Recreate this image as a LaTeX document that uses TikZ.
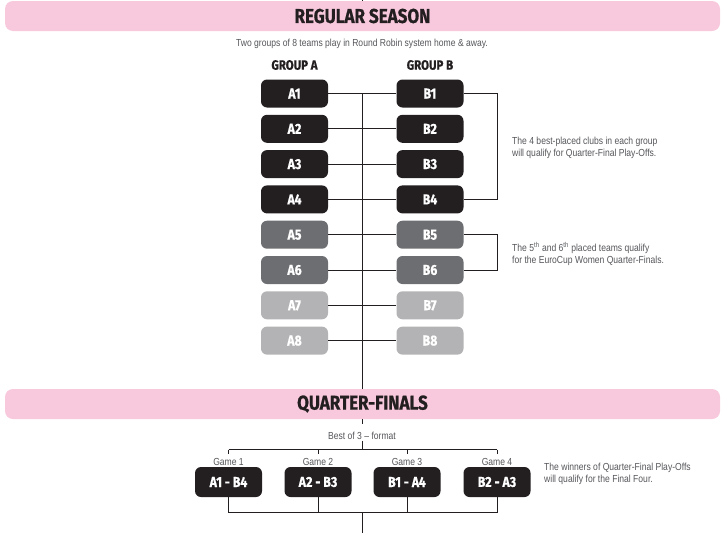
\documentclass[tikz,border=0pt]{standalone}
\usepackage{fontspec}
\setmainfont{Liberation Sans}[FakeStretch=0.84]
\newfontfamily\headfont{Fira Sans}[FakeStretch=0.85,FakeBold=0.8]
\usetikzlibrary{positioning}
\definecolor{bannerpink}{HTML}{F8C8DC}
\definecolor{teamblack}{HTML}{231F20}
\definecolor{teamdark}{HTML}{6D6E71}
\definecolor{teamlight}{HTML}{B3B3B5}
\definecolor{notegray}{HTML}{55565A}
\tikzset{
  banner/.style={fill=bannerpink, rounded corners=8pt, minimum width=715pt, minimum height=30pt, inner sep=0pt,
    text=teamblack, font=\headfont\bfseries\fontsize{20}{20}\selectfont},
  team/.style={rounded corners=6pt, minimum width=67pt, minimum height=28pt, inner sep=0pt,
    text=white, font=\headfont\bfseries\fontsize{14.5}{14.5}\selectfont},
  grouphead/.style={text=teamblack, font=\headfont\bfseries\fontsize{13.5}{13.5}\selectfont},
  note/.style={text=notegray, font=\fontsize{10.2}{12}\selectfont, align=left, inner sep=1pt},
  link/.style={draw=teamblack, line width=0.9pt}
}
\begin{document}
\begin{tikzpicture}[x=1pt,y=-1pt]
\useasboundingbox (0,0) rectangle (722,533);
% regular season
\node[banner] (regular) at (362.5,16) {REGULAR SEASON};
\draw[link] (regular.north) -- ++(0,-2);
\node[note] (intro) at (362,43.5) {Two groups of 8 teams play in Round Robin system home \& away.};
\node[grouphead] (groupa) at (294.5,65) {GROUP A};
\node[grouphead] (groupb) at (430,65) {GROUP B};
\foreach \i/\c in {1/teamblack,2/teamblack,3/teamblack,4/teamblack,5/teamdark,6/teamdark,7/teamlight,8/teamlight}{ % edit here for the rows
\node[team, fill=\c] (a\i) at (294.5,{93.5+35.3*(\i-1)}) {A\i};
\node[team, fill=\c] (b\i) at (430,{93.5+35.3*(\i-1)}) {B\i};
\draw[link] (a\i) -- (b\i);}
% brackets on the right
\draw[link] (b1.east) -- ++(34,0) |- (b4.east);
\draw[link] (b5.east) -- ++(34,0) |- (b6.east);
\node[note, anchor=west] (best4) at (511,147.5) {The 4 best-placed clubs in each group\\will qualify for Quarter-Final Play-Offs.};
\node[note, anchor=west] (fifth) at (511,254) {The 5\textsuperscript{th} and 6\textsuperscript{th} placed teams qualify\\for the EuroCup Women Quarter-Finals.};
% quarter-finals
\node[banner] (quarter) at (362.5,404) {QUARTER-FINALS};
\draw[link] (a1 -| regular) -- (quarter.north);
\draw[link] (quarter.south) -- ++(0,5);
\node[note] (best) at (362,436) {Best of 3 -- format};
\coordinate (qtop) at (362,449.5);
\coordinate (qbot) at (362,512.5);
\coordinate (qend) at (362,533);
\foreach \i/\t/\x in {1/A1 - B4/228.5,2/A2 - B3/318,3/B1 - A4/407,4/B2 - A3/497}{
\node[team, fill=teamblack, minimum height=30pt, font=\headfont\bfseries\fontsize{14.5}{14.5}\selectfont] (g\i) at (\x,482) {\t};
\node[note, above=0.5pt of g\i] (game\i) {Game \i};
\draw[link] (g\i |- qtop) -- ++(0,4.5);
\draw[link] (g\i.south) -- (g\i |- qbot);}
\draw[link] (best.south) -- (qtop);
\draw[link] (g1 |- qtop) -- (g4 |- qtop);
\draw[link] (g1 |- qbot) -- (g4 |- qbot);
\draw[link] (qbot) -- (qend);
\node[note, anchor=west] (winners) at (543,473.5) {The winners of Quarter-Final Play-Offs\\will qualify for the Final Four.};
\end{tikzpicture}
\end{document}
